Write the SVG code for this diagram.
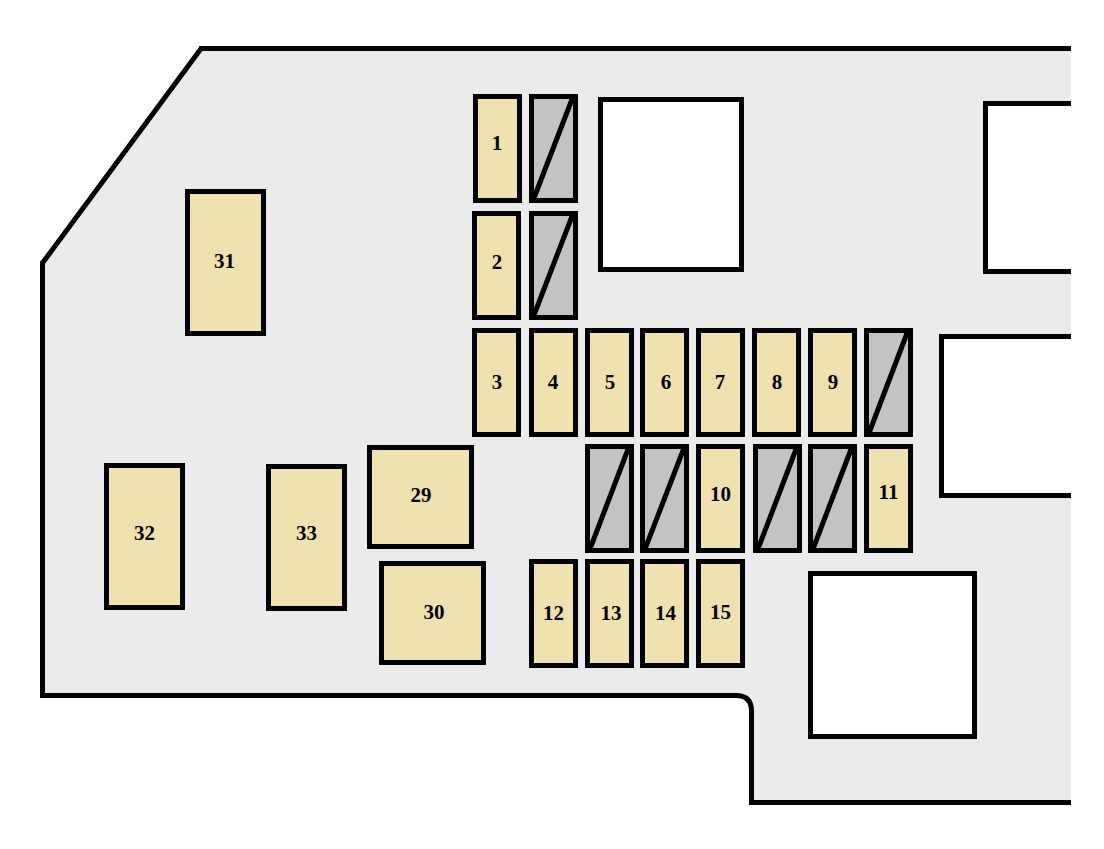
<svg xmlns="http://www.w3.org/2000/svg" width="1104" height="849" viewBox="0 0 1104 849">
<style>
.l{fill:none;stroke:#000;stroke-width:5}
.y{fill:#efe2ae;stroke:#000;stroke-width:5}
.g{fill:#c3c3c3;stroke:#000;stroke-width:5}
.w{fill:#fff;stroke:#000;stroke-width:5}
text{font-family:"Liberation Serif",serif;font-weight:bold;font-size:21px;text-anchor:middle;fill:#000}
</style>
<rect width="1104" height="849" fill="#fff"/>
<g id="housing">
<path d="M1071 48.500H201L42.500 263V695.500H736Q751.500 695.500 751.500 711V802.500H1071Z" fill="#ebebeb"/>
<path class="l" d="M1071 48.500H199M201.500 48L42.500 263M42.500 261V695.500H736Q751.500 695.500 751.500 711V802.500H1071"/>
</g>
<g id="blank-sockets">
<path class="w" d="M600.500 99.500H741.500V269.500H600.500Z"/>
<path class="w" d="M1071 103.500H985.500V271.500H1071"/>
<path class="w" d="M1071 336.500H941.500V495.500H1071"/>
<path class="w" d="M810.500 573.500H974.500V736.500H810.500Z"/>
</g>
<g id="spare-fuses">
<g id="s1"><rect class="g" x="531.500" y="96.500" width="44" height="104"/><path class="l" d="M534 198L572.500 98"/></g>
<g id="s2"><rect class="g" x="531.500" y="213.500" width="44" height="104"/><path class="l" d="M534 315L572.500 215"/></g>
<g id="s3"><rect class="g" x="866.500" y="330.500" width="44" height="104"/><path class="l" d="M869 433L907.500 332"/></g>
<g id="s4"><rect class="g" x="587.500" y="446.500" width="44" height="104"/><path class="l" d="M590 549L628.500 448"/></g>
<g id="s5"><rect class="g" x="642.500" y="446.500" width="44" height="104"/><path class="l" d="M645 549L684 448"/></g>
<g id="s6"><rect class="g" x="755.500" y="446.500" width="44" height="104"/><path class="l" d="M758 549L796.500 448"/></g>
<g id="s7"><rect class="g" x="810.500" y="446.500" width="44" height="104"/><path class="l" d="M813 549L851.500 448"/></g>
</g>
<g id="f1"><rect class="y" x="475.500" y="96.500" width="44" height="104"/><text x="497" y="150">1</text></g>
<g id="f2"><rect class="y" x="474.500" y="213.500" width="44" height="104"/><text x="497" y="269">2</text></g>
<g id="f3"><rect class="y" x="474.500" y="330.500" width="44" height="104"/><text x="497" y="389">3</text></g>
<g id="f4"><rect class="y" x="531.500" y="330.500" width="44" height="104"/><text x="553" y="389">4</text></g>
<g id="f5"><rect class="y" x="587.500" y="330.500" width="44" height="104"/><text x="610" y="389">5</text></g>
<g id="f6"><rect class="y" x="642.500" y="330.500" width="44" height="104"/><text x="666" y="389">6</text></g>
<g id="f7"><rect class="y" x="698.500" y="330.500" width="44" height="104"/><text x="720" y="389">7</text></g>
<g id="f8"><rect class="y" x="754.500" y="330.500" width="44" height="104"/><text x="777" y="389">8</text></g>
<g id="f9"><rect class="y" x="810.500" y="330.500" width="44" height="104"/><text x="833" y="389">9</text></g>
<g id="f10"><rect class="y" x="698.500" y="446.500" width="44" height="104"/><text x="720.500" y="501">10</text></g>
<g id="f11"><rect class="y" x="866.500" y="446.500" width="44" height="104"/><text x="888.500" y="499">11</text></g>
<g id="f12"><rect class="y" x="531.500" y="561.500" width="44" height="104"/><text x="553.500" y="620">12</text></g>
<g id="f13"><rect class="y" x="587.500" y="561.500" width="44" height="104"/><text x="611" y="620">13</text></g>
<g id="f14"><rect class="y" x="642.500" y="561.500" width="44" height="104"/><text x="665.500" y="620">14</text></g>
<g id="f15"><rect class="y" x="698.500" y="561.500" width="44" height="104"/><text x="720.500" y="619">15</text></g>
<g id="f29"><rect class="y" x="369.500" y="447.500" width="102" height="99"/><text x="421" y="502">29</text></g>
<g id="f30"><rect class="y" x="381.500" y="563.500" width="102" height="99"/><text x="434" y="619">30</text></g>
<g id="f31"><rect class="y" x="187.500" y="191.500" width="76" height="142"/><text x="224.500" y="268">31</text></g>
<g id="f32"><rect class="y" x="106.500" y="465.500" width="76" height="142"/><text x="144.500" y="540">32</text></g>
<g id="f33"><rect class="y" x="268.500" y="466.500" width="76" height="142"/><text x="306.500" y="540">33</text></g>
</svg>
